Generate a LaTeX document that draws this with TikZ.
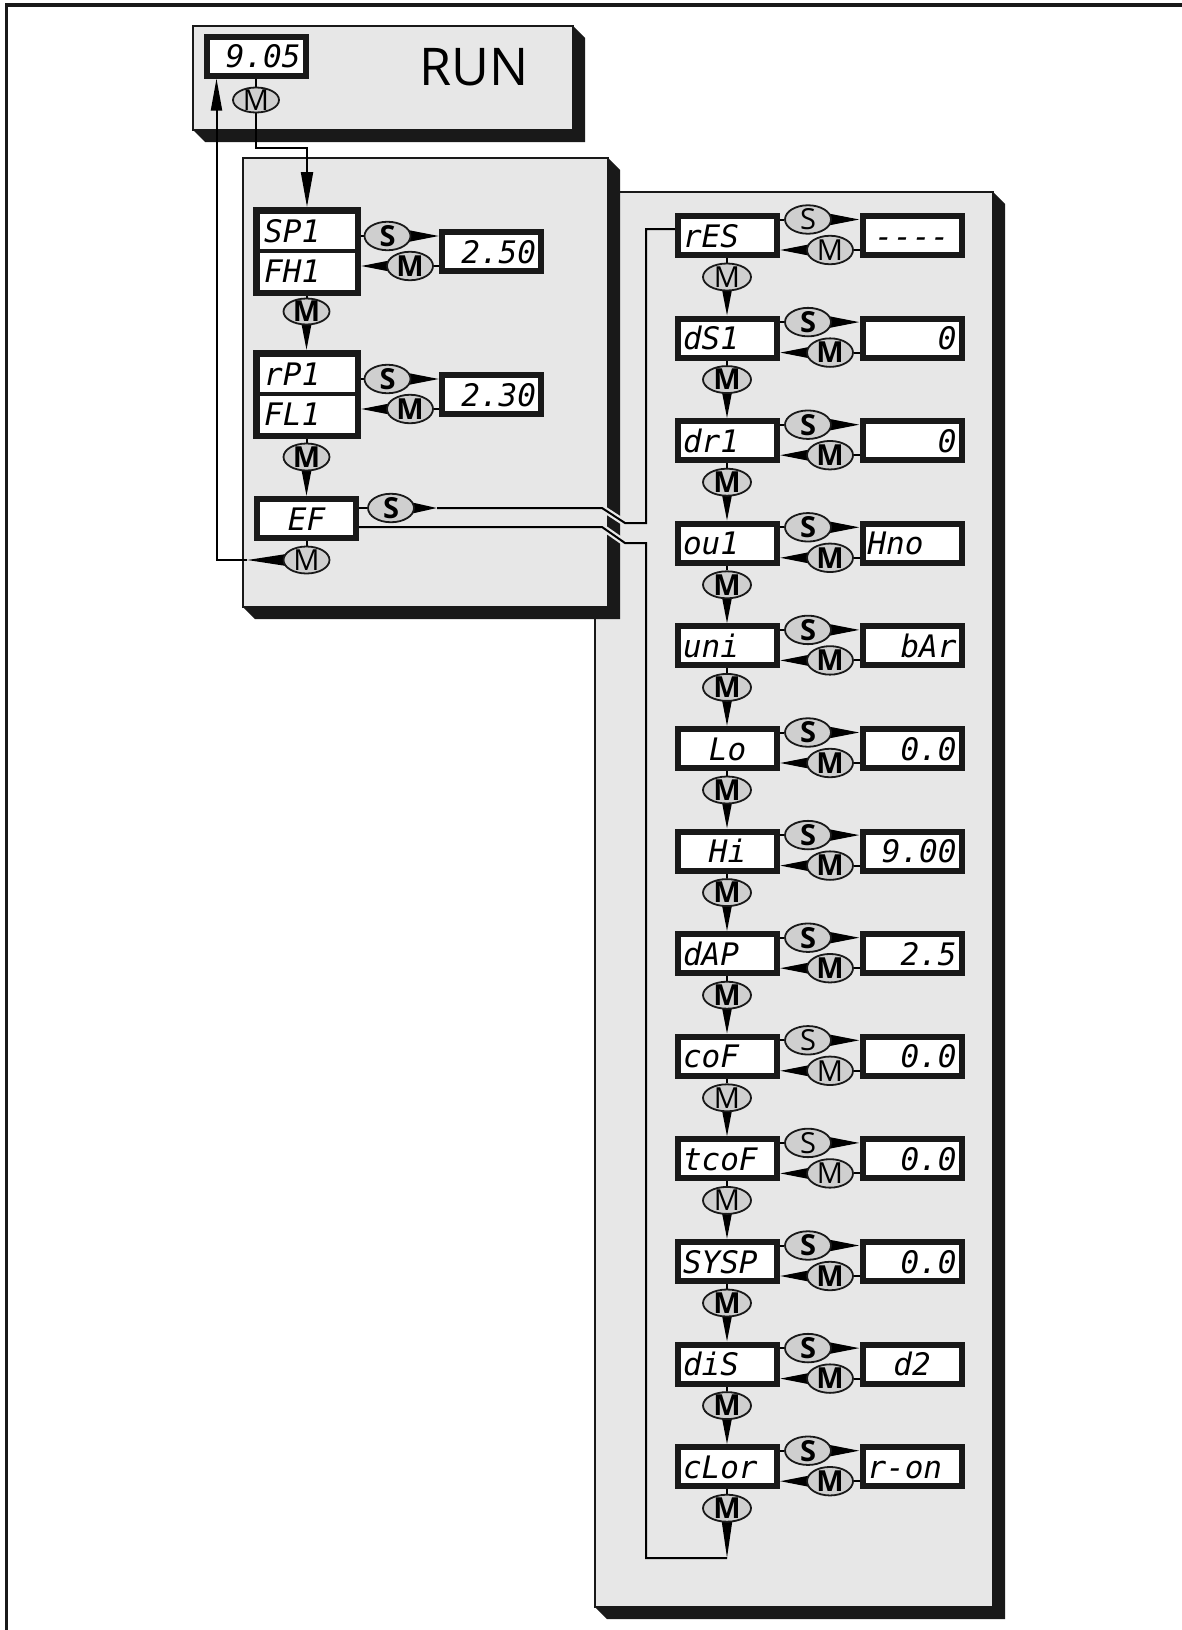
\documentclass[tikz,border=0pt]{standalone}
\usepackage{fontspec}
\usetikzlibrary{arrows.meta,shapes.geometric}
\newfontfamily\segfam{DejaVu Sans Mono}
\newfontfamily\keyfam{Open Sans}
\newcommand\segf{\segfam\itshape\fontsize{31}{31}\selectfont}
\newcommand\kyr{\keyfam\fontsize{29}{29}\selectfont}
\newcommand\kyb{\keyfam\bfseries\fontsize{29}{29}\selectfont}
\newcommand\runf{\keyfam\fontsize{52}{52}\selectfont}
\newcommand\fourdash{-{}-{}-{}-}
\definecolor{panel}{gray}{0.905}
\definecolor{keyg}{gray}{0.81}
\definecolor{dk}{gray}{0.1}
\pgfdeclarelayer{bg}\pgfdeclarelayer{mid}\pgfsetlayers{bg,mid,main}
\tikzset{
 disp/.style={draw=dk, line width=6pt, fill=white, minimum height=39pt, text width=89pt, inner xsep=5pt, inner ysep=0pt, text height=23pt, text depth=0pt, font=\segf},
 dbox/.style={draw=dk, line width=6.5pt, fill=white, minimum width=101.5pt, minimum height=82.5pt, inner sep=0pt},
 lbl/.style={font=\segf, anchor=west, inner sep=0pt, text height=23pt, text depth=0pt},
 btn/.style={ellipse, draw=dk, line width=1.8pt, fill=keyg, minimum width=46pt, minimum height=28.5pt, inner sep=-4pt, font=#1},
 btn/.default=\kyr,
 conn/.style={draw=black, line width=2pt},
 wdg/.style={conn, -{Triangle[length=#1, width=11pt]}},
 wdg/.default=30pt,
 halo/.style={preaction={draw=panel, line width=6.5pt}},
 pan/.style={fill=panel, draw=dk, line width=2pt},
}
\newcommand\shpanel[4]{%
 \fill[dk] (#3,#2) -- ({#3+12},{#2+12}) -- ({#3+12},{#4+12}) -- ({#1+12},{#4+12}) -- (#1,#4) -- (#3,#4) -- cycle;
 \draw[pan] (#1,#2) rectangle (#3,#4);}
\begin{document}
\begin{tikzpicture}[x=1pt,y=-1pt]
\useasboundingbox (0,0) rectangle (1182,1630);
\begin{pgfonlayer}{bg}
\fill[white] (0,0) rectangle (1182,1630);
\draw[dk, line width=3.5pt] (6.5,1630) -- (6.5,5) -- (1182,5);
\shpanel{595}{192}{993}{1607}
\shpanel{243}{158}{608}{607}
\shpanel{193}{26}{573}{130}
\end{pgfonlayer}

% RUN block
\node[disp, align=right] (dsp) at (256,56) {9.05};
\node[btn, minimum height=25pt] (mrun) at (256,100) {M};
\node[font=\runf, inner sep=0pt] (run) at (474,67) {RUN};

% left panel
\node[dbox] (lb1) at (307,251.5) {};
\node[lbl] (tsp) at (264,231) {SP1};
\node[lbl] (tfh) at (264,271) {FH1};
\node[btn=\kyb] (ls1) at (387.5,236) {S};
\node[btn=\kyb] (lm1) at (410,266) {M};
\node[disp, align=right] (lv1) at (491.5,251.5) {2.50};
\node[btn=\kyb, minimum height=26pt] (ld1) at (306.5,311.5) {M};
\node[dbox] (lb2) at (307,394.5) {};
\node[lbl] (trp) at (264,374) {rP1};
\node[lbl] (tfl) at (264,414) {FL1};
\node[btn=\kyb] (ls2) at (387.5,379) {S};
\node[btn=\kyb] (lm2) at (410,409) {M};
\node[disp, align=right] (lv2) at (491.5,394.5) {2.30};
\node[btn=\kyb, minimum height=27pt] (ld2) at (306.5,457) {M};
\node[disp, align=center] (ef) at (306.5,518.5) {EF};
\node[btn=\kyb] (sef) at (391,508) {S};
\node[btn, minimum height=27pt] (mef) at (306.5,560) {M};

% right panel rows
\foreach \i/\p/\pa/\v/\va/\k in {
 0/rES/left/\fourdash/center/\kyr,
 1/dS1/left/0/right/\kyb,
 2/dr1/left/0/right/\kyb,
 3/ou1/left/Hno/left/\kyb,
 4/uni/left/bAr/right/\kyb,
 5/Lo/center/0.0/right/\kyb,
 6/Hi/center/9.00/right/\kyb,
 7/dAP/left/2.5/right/\kyb,
 8/coF/left/0.0/right/\kyr,
 9/tcoF/left/0.0/right/\kyr,
 10/SYSP/left/0.0/right/\kyb,
 11/diS/left/d2/center/\kyb,
 12/cLor/left/r-on/left/\kyb}{
 \pgfmathsetmacro\rowT{213+102.6*\i}
 \node[disp, align=\pa] (r\i) at (727.5,{\rowT+22.5}) {\p};
 \node[disp, align=\va] (v\i) at (912,{\rowT+22.5}) {\v};
 \node[btn=\k] (s\i) at (808,{\rowT+6.5}) {S};
 \node[btn=\k] (m\i) at (830,{\rowT+37}) {M};
 \node[btn=\k, minimum width=48pt, minimum height=27pt] (d\i) at (727,{\rowT+64}) {M};
}

\coordinate (dv1) at (0,251);
\coordinate (dv2) at (0,394);
\coordinate (a1) at (256,148);
\coordinate (a2) at (307,148);
\coordinate (uw) at (437,508);
\coordinate (u1) at (602,508);
\coordinate (u2) at (625,523);
\coordinate (u3) at (646,523);
\coordinate (u4) at (646,229);
\coordinate (l1) at (602,527);
\coordinate (l2) at (625,543);
\coordinate (l3) at (646,543);
\coordinate (l4) at (646,1558);
\coordinate (jb) at (727,1558);
\coordinate (rw) at (247,560);
\coordinate (rc) at (216.5,560);

\draw[dk, line width=4pt] (lb1.west |- dv1) -- (lb1.east |- dv1);
\draw[dk, line width=4pt] (lb2.west |- dv2) -- (lb2.east |- dv2);

\begin{pgfonlayer}{mid}
\draw[conn] (dsp.south) -- (mrun.north);
\draw[conn, -{Triangle[length=35pt,width=12pt]}] (mrun.south) -- (a1) -- (a2) -- (a2 |- lb1.north);

\draw[conn] (lb1.east |- ls1) -- (ls1.west);
\draw[wdg] (ls1.east) -- (lv1.west |- ls1);
\draw[conn] (lv1.west |- lm1) -- (lm1.east);
\draw[wdg] (lm1.west) -- (lb1.east |- lm1);
\draw[conn] (lb1.south -| ld1) -- (ld1.north);
\draw[wdg] (ld1.south) -- (lb2.north -| ld1);

\draw[conn] (lb2.east |- ls2) -- (ls2.west);
\draw[wdg] (ls2.east) -- (lv2.west |- ls2);
\draw[conn] (lv2.west |- lm2) -- (lm2.east);
\draw[wdg] (lm2.west) -- (lb2.east |- lm2);
\draw[conn] (lb2.south -| ld2) -- (ld2.north);
\draw[wdg] (ld2.south) -- (ef.north -| ld2);

\draw[conn] (ef.east |- sef) -- (sef.west);
\draw[wdg=26pt] (sef.east) -- (uw);
\draw[conn, halo] (uw) -- (u1) -- (u2) -- (u3) -- (u4) -- (r0.west |- u4);
\draw[conn, halo] (ef.east |- l1) -- (l1) -- (l2) -- (l3) -- (l4) -- (jb);

\draw[conn] (ef.south -| mef) -- (mef.north);
\draw[wdg=38pt] (mef.west) -- (rw);
\draw[conn, -{Triangle[length=32pt,width=11pt]}] (rw) -- (rc) -- (rc |- dsp.south);

\foreach \i in {0,...,12}{
 \draw[conn] (r\i.east |- s\i) -- (s\i.west);
 \draw[wdg] (s\i.east) -- (v\i.west |- s\i);
 \draw[conn] (v\i.west |- m\i) -- (m\i.east);
 \draw[wdg] (m\i.west) -- (r\i.east |- m\i);
 \draw[conn] (r\i.south -| d\i) -- (d\i.north);
}
\foreach \i [evaluate=\i as \j using int(\i+1)] in {0,...,11}
 \draw[wdg] (d\i.south) -- (r\j.north -| d\i);
\draw[wdg=40pt] (d12.south) -- (jb);
\end{pgfonlayer}
\end{tikzpicture}
\end{document}
